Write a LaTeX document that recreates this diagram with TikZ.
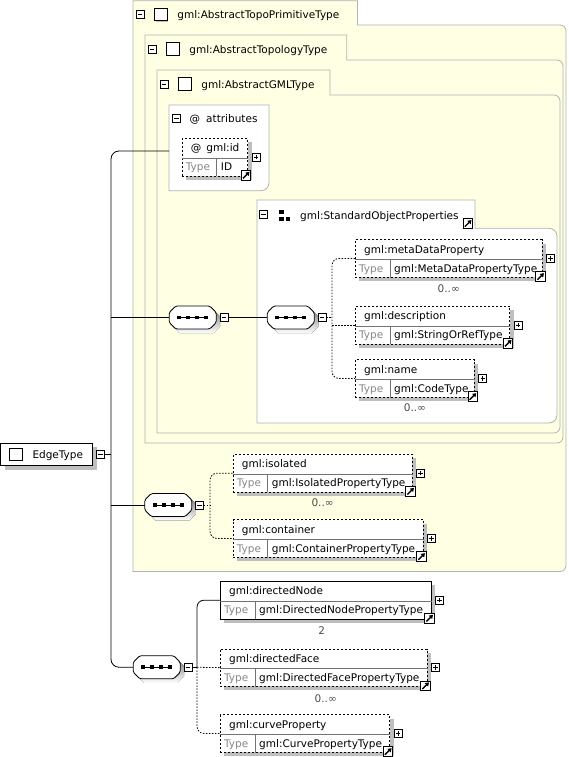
\documentclass[tikz,border=0pt]{standalone}
\usepackage{fontspec}
\setmainfont{DejaVu Sans}
\usetikzlibrary{shadows,arrows.meta}

\definecolor{framefill}{RGB}{255,255,228}
\definecolor{frameline}{RGB}{178,178,178}
\definecolor{typegray}{RGB}{136,136,136}
\definecolor{shade}{RGB}{190,190,190}

\tikzset{
	txt/.style={font=\fontsize{10.5}{12}\selectfont, inner sep=0pt},
	typ/.style={txt, text=typegray},
	occ/.style={txt, text=black!70},
	frm/.style={draw=frameline, fill=framefill, line width=0.8pt},
	grp/.style={draw=frameline, fill=white, line width=0.8pt},
	shd/.style={drop shadow={shadow xshift=4pt, shadow yshift=-4pt, fill=shade, opacity=1}},
	box/.style={draw, line width=0.8pt, fill=white, anchor=north west, minimum height=37.5pt, inner sep=0pt, shd},
	optbox/.style={box, dash pattern=on 2pt off 2pt},
	reqbox/.style={box},
	cell/.style={draw=black!55, line width=0.7pt},
	conn/.style={draw=black, line width=0.8pt},
	opt/.style={conn, dash pattern=on 1.5pt off 1.5pt},
	minus/.style={draw, line width=0.7pt, fill=white, minimum size=8pt, inner sep=0pt, path picture={\draw ([xshift=1.8pt]path picture bounding box.west) -- ([xshift=-1.8pt]path picture bounding box.east);}},
	plus/.style={draw, line width=0.7pt, fill=white, minimum size=8pt, inner sep=0pt, path picture={\draw ([xshift=1.8pt]path picture bounding box.west) -- ([xshift=-1.8pt]path picture bounding box.east) ([yshift=1.8pt]path picture bounding box.south) -- ([yshift=-1.8pt]path picture bounding box.north);}},
	link/.style={draw, solid, line width=0.8pt, fill=white, minimum size=9.5pt, inner sep=0pt, path picture={\draw [black, line width=1.4pt, -{Triangle[length=3.6pt, width=4.6pt]}] ([shift={(1.6pt, 1.6pt)}]path picture bounding box.south west) -- ([shift={(-1.3pt, -1.3pt)}]path picture bounding box.north east);}},
	chk/.style={draw, line width=0.8pt, fill=white, minimum size=12.4pt, inner sep=0pt},
	tabchk/.style={chk, drop shadow={shadow xshift=1.2pt, shadow yshift=-1.2pt, fill=shade, opacity=1}},
	root/.style={draw, line width=1.2pt, fill=white, minimum width=92pt, minimum height=22.4pt, inner sep=0pt, shd},
	seq/.style={minimum width=47pt, minimum height=23pt, inner sep=0pt,
		path picture={\draw [black, line width=0.9pt] ([xshift=-13.5pt]path picture bounding box.center) -- ([xshift=13.5pt]path picture bounding box.center);
			\foreach \dx in {-13.5, -4.5, 4.5, 13.5} \fill [black] ([xshift=\dx pt]path picture bounding box.center) +(-2pt, -1.8pt) rectangle +(2pt, 1.8pt);}}
}

\newcommand{\tabtitle}[3]{%
	\coordinate (#1) at (#2);
	\draw ([shift={(7, 14)}]#1) node [minus] (#1-minus) {};
	\draw ([shift={(27.7, 14)}]#1) node [tabchk] (#1-chk) {};
	\draw ([shift={(44.2, 18.2)}]#1) node [txt, anchor=base west] (#1-name) {#3};
}

\newcommand{\seqgrp}[2]{%
	\coordinate (#1-c) at (#2);
	\fill [shade] ([shift={(4, 4)}]#1-c) +(-17, -11.5) -- +(17, -11.5) -- +(23.5, -5) -- +(23.5, 5) -- +(17, 11.5) -- +(-17, 11.5) -- +(-23.5, 5) -- +(-23.5, -5) -- cycle;
	\draw [fill=white, line width=0.8pt, rounded corners=1.5] (#1-c) +(-17, -11.5) -- +(17, -11.5) -- +(23.5, -5) -- +(23.5, 5) -- +(17, 11.5) -- +(-17, 11.5) -- +(-23.5, 5) -- +(-23.5, -5) -- cycle;
	\draw (#1-c) node [seq] (#1) {};
	\draw ([shift={(7.5, 0)}]#1.east) node [minus] (#1-minus) {};
}

\newcommand{\elem}[6][optbox]{%
	\draw (#3) node [#1, minimum width=#4] (#2) {};
	\draw [cell] ([shift={(0, 20)}]#2.north west) -- ([shift={(0, 20)}]#2.north east);
	\draw [cell] ([shift={(35, 20)}]#2.north west) -- ([shift={(35, 0)}]#2.south west);
	\draw ([shift={(9, 13.8)}]#2.north west) node [txt, anchor=base west] (#2-name) {#5};
	\draw ([shift={(4, 32.8)}]#2.north west) node [typ, anchor=base west] (#2-type) {Type};
	\draw ([shift={(39, 32.8)}]#2.north west) node [txt, anchor=base west] (#2-val) {#6};
	\draw ([shift={(8, 0)}]#2.east) node [plus] (#2-plus) {};
	\draw ([shift={(-2, -1)}]#2.south east) node [link] (#2-link) {};
}

\begin{document}
\begin{tikzpicture}[x=1pt, y=-1pt]
	\useasboundingbox (0, 0) rectangle (568, 757);

	\draw [frm] (133, 571.5) -- (133, 0.7) -- (357.5, 0.7) -- (357.5, 25) -- (520, 25) [rounded corners=6] -- (566, 25) -- (566, 571.5) -- (300, 571.5) [sharp corners] -- cycle;
	\draw [frm] (145, 443) -- (145, 35) -- (346.7, 35) -- (346.7, 60) -- (500, 60) [rounded corners=6] -- (563, 60) -- (563, 443) -- (300, 443) [sharp corners] -- cycle;
	\draw [frm] (157, 433) -- (157, 70) -- (330, 70) -- (330, 95) -- (480, 95) [rounded corners=6] -- (560, 95) -- (560, 433) -- (300, 433) [sharp corners] -- cycle;
	\draw [grp] (169, 105) -- (269, 105) -- (269, 150) [rounded corners=8] -- (269, 190.7) -- (200, 190.7) [sharp corners] -- (169, 190.7) -- cycle;
	\draw [grp] (257, 423) -- (257, 200) -- (475, 200) -- (475, 228.3) -- (500, 228.3) [rounded corners=8] -- (557, 228.3) -- (557, 423) -- (300, 423) [sharp corners] -- cycle;

	\tabtitle{topo}{133, 0.7}{gml:AbstractTopoPrimitiveType}
	\tabtitle{topology}{145, 35}{gml:AbstractTopologyType}
	\tabtitle{gml}{157, 70}{gml:AbstractGMLType}

	\draw (176.3, 118) node [minus] (attr-minus) {};
	\draw (189.3, 122) node [txt, anchor=base west] (attr-at) {@};
	\draw (206, 122) node [txt, anchor=base west] (attr-name) {attributes};

	\draw (263.3, 214.7) node [minus] (sop-minus) {};
	\fill (279, 209.5) rectangle (283.5, 214);
	\fill (279, 216.5) rectangle (283.5, 221);
	\fill (285.5, 217) rectangle (290, 221);
	\draw (300, 219) node [txt, anchor=base west] (sop-name) {gml:StandardObjectProperties};
	\draw (468, 223.5) node [link] (sop-link) {};

	\draw (46.7, 454.5) node [root] (edge) {};
	\draw (15.8, 454.3) node [chk] (edge-chk) {};
	\draw (32.3, 458.5) node [txt, anchor=base west] (edge-name) {EdgeType};
	\draw (100.3, 454.5) node [minus] (edge-minus) {};

	\seqgrp{seqA}{192.7, 317.5}
	\seqgrp{seqB}{290.8, 317.5}
	\seqgrp{seqC}{168.3, 505}
	\seqgrp{seqD}{156.7, 667.25}

	\elem{gmlid}{181.7, 138}{65.6}{@\hspace{5pt}gml:id}{ID}
	\elem{metadata}{355, 239.3}{186.7}{gml:metaDataProperty}{gml:MetaDataPropertyType}
	\elem{description}{355, 306}{154.3}{gml:description}{gml:StringOrRefType}
	\elem{gmlname}{355, 359.3}{119}{gml:name}{gml:CodeType}
	\elem{isolated}{232.7, 454}{179}{gml:isolated}{gml:IsolatedPropertyType}
	\elem{container}{232.7, 519.3}{190}{gml:container}{gml:ContainerPropertyType}
	\elem[reqbox]{dirnode}{220, 581}{210.7}{gml:directedNode}{gml:DirectedNodePropertyType}
	\elem{dirface}{220, 648.5}{206.7}{gml:directedFace}{gml:DirectedFacePropertyType}
	\elem{curveprop}{220, 714.3}{169.3}{gml:curveProperty}{gml:CurvePropertyType}

	\draw ([shift={(0, 11)}]metadata.south) node [occ] (metadata-occ) {0..∞};
	\draw ([shift={(0, 10)}]gmlname.south) node [occ] (gmlname-occ) {0..∞};
	\draw ([shift={(0, 10.5)}]isolated.south) node [occ] (isolated-occ) {0..∞};
	\draw ([shift={(-4, 11.5)}]dirnode.south) node [occ] (dirnode-occ) {2};
	\draw ([shift={(2, 12)}]dirface.south) node [occ] (dirface-occ) {0..∞};

	\coordinate (attrpin) at (169, 151);
	\coordinate (spine) at (111, 454.5);
	\coordinate (barB) at (332, 317.5);
	\coordinate (barC) at (210, 505);
	\coordinate (barD) at (197, 667.25);

	\path [conn] (edge-minus) edge (spine);
	\draw [conn, rounded corners=8] (attrpin) -| (spine) |- (seqD.west);
	\path [conn] (spine |- seqA.west) edge (seqA.west);
	\path [conn] (spine |- seqC.west) edge (seqC.west);
	\path [conn] (seqA-minus) edge (seqB);

	\path [opt] (seqB-minus) edge (barB);
	\draw [opt, rounded corners=7] (metadata.west) -| (barB) |- (gmlname.west);
	\path [opt] (barB |- description.west) edge (description.west);

	\path [opt] (seqC-minus) edge (barC);
	\draw [opt, rounded corners=7] (isolated.west) -| (barC) |- (container.west);

	\path [conn] (seqD-minus) edge (barD);
	\draw [conn, rounded corners=7] (dirnode.west) -| (barD);
	\path [opt] (barD) edge (dirface.west);
	\draw [opt, rounded corners=7] (barD) |- (curveprop.west);
\end{tikzpicture}
\end{document}
